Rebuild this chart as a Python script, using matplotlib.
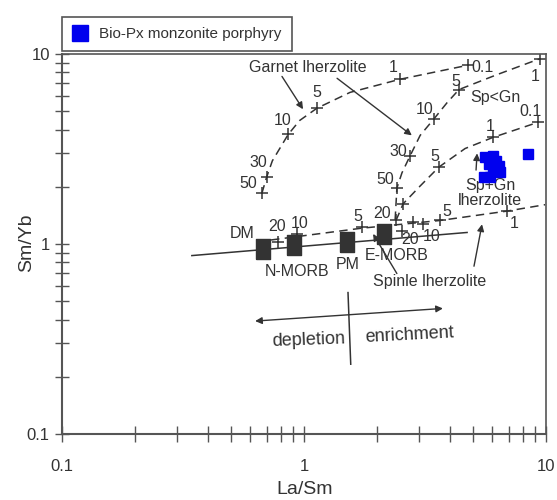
import matplotlib
matplotlib.use("Agg")
import matplotlib.pyplot as plt
from matplotlib.ticker import NullFormatter

plt.rcParams['font.family'] = ['Liberation Sans', 'DejaVu Sans']

ink = '#333333'
axc = '#555555'

# melting curves (La/Sm, Sm/Yb)
garnet_x = [0.67, 0.70, 0.74, 0.86, 0.96, 1.13, 1.55, 2.49, 4.76]
garnet_y = [1.85, 2.24, 2.74, 3.77, 4.47, 5.18, 6.28, 7.36, 8.73]
garnet_mx = [0.67, 0.70, 0.86, 1.13, 2.49, 4.76]
garnet_my = [1.85, 2.24, 3.77, 5.18, 7.36, 8.73]
garnet_lab = ['50', '30', '10', '5', '1', '0.1']
garnet_lx = [0.588, 0.646, 0.819, 1.132, 2.33, 5.44]
garnet_ly = [2.07, 2.68, 4.47, 6.28, 8.53, 8.53]

spgn_x = [2.38, 2.42, 2.54, 2.74, 3.02, 3.45, 3.90, 4.37, 6.28, 9.45]
spgn_y = [1.34, 1.97, 2.37, 2.90, 3.73, 4.57, 5.54, 6.50, 7.79, 9.45]
spgn_mx = [2.42, 2.74, 3.45, 4.37, 9.45]
spgn_my = [1.97, 2.90, 4.57, 6.50, 9.45]
spgn_lab = ['50', '30', '10', '5', '1']
spgn_lx = [2.16, 2.45, 3.16, 4.25, 9.01]
spgn_ly = [2.19, 3.07, 5.12, 7.20, 7.62]

mix_x = [2.40, 2.57, 3.02, 3.61, 4.63, 6.04, 9.27]
mix_y = [1.33, 1.63, 2.02, 2.54, 3.18, 3.64, 4.37]
mix_mx = [2.57, 3.61, 6.04, 9.27]
mix_my = [1.63, 2.54, 3.64, 4.37]
mix_lab = ['5', '1', '0.1']
mix_lx = [3.48, 5.87, 8.59]
mix_ly = [2.90, 4.17, 5.01]

spinel_x = [0.731, 1.72, 3.65, 6.90, 9.91]
spinel_y = [1.05, 1.21, 1.33, 1.49, 1.61]
spinel_mx = [0.782, 0.935, 1.74, 2.40, 2.82, 3.10, 3.65, 6.90]
spinel_my = [1.03, 1.13, 1.23, 1.33, 1.30, 1.28, 1.33, 1.49]
spinel_lab = ['20', '10', '5', '20', '5', '1']
spinel_lx = [0.774, 0.962, 1.67, 2.10, 3.90, 7.38]
spinel_ly = [1.24, 1.28, 1.39, 1.44, 1.49, 1.28]

trend_x = [0.344, 4.72]
trend_y = [0.869, 1.15]
trend_mx = [2.54]
trend_my = [1.17]
trend_lab = ['20', '10']
trend_lx = [2.74, 3.38]
trend_ly = [1.05, 1.09]

# reservoirs
res_names = ['DM', 'N-MORB', 'PM', 'E-MORB']
res_x = [0.678, 0.910, 1.51, 2.14]
res_y = [0.938, 0.987, 1.02, 1.13]
res_lx = [0.555, 0.935, 1.51, 2.42]
res_ly = [1.13, 0.717, 0.784, 0.869]

# samples
bio_x = [5.60, 6.04, 5.81, 6.39, 6.04, 6.46, 5.54, 5.87, 6.21, 8.43]
bio_y = [2.87, 2.90, 2.65, 2.56, 2.42, 2.39, 2.24, 2.26, 2.74, 2.97]

fig = plt.figure(figsize=(5.57, 5.0), dpi=100)
ax = fig.add_axes([62 / 557, 66 / 500, 484 / 557, 380 / 500])
ax.set_xscale('log')
ax.set_yscale('log')
ax.set_xlim(0.1, 10)
ax.set_ylim(0.1, 10)

dash = (0, (5.5, 3.5))
for lx, ly, mx, my in [(garnet_x, garnet_y, garnet_mx, garnet_my),
                       (spgn_x, spgn_y, spgn_mx, spgn_my),
                       (mix_x, mix_y, mix_mx, mix_my),
                       (spinel_x, spinel_y, spinel_mx, spinel_my)]:
    ax.plot(lx, ly, color=ink, lw=1.1, linestyle=dash)
    ax.plot(mx, my, '+', color=ink, ms=8, mew=1.1)

ax.plot(trend_x, trend_y, color=ink, lw=1.1)
ax.plot(trend_mx, trend_my, '+', color=ink, ms=8, mew=1.1)

tall_box = [(-0.75, -1), (0.75, -1), (0.75, 1), (-0.75, 1), (-0.75, -1)]
ax.plot(res_x, res_y, linestyle='none', marker=tall_box, color='#333333', ms=14,
        mec='#333333')
ax.plot(bio_x, bio_y, 's', color='#0000ee', ms=6.5, mec='#0000ee',
        label='Bio-Px monzonite porphyry', zorder=5)

fs = 11.5
for labs, lx, ly in [(garnet_lab, garnet_lx, garnet_ly),
                     (spgn_lab, spgn_lx, spgn_ly),
                     (mix_lab, mix_lx, mix_ly),
                     (spinel_lab, spinel_lx, spinel_ly),
                     (trend_lab, trend_lx, trend_ly),
                     (res_names, res_lx, res_ly)]:
    for t, x, y in zip(labs, lx, ly):
        ax.text(x, y, t, fontsize=fs, color=ink, ha='center', va='center')

ax.text(1.04, 8.53, 'Garnet lherzolite', fontsize=fs, color=ink, ha='center', va='center')
ax.text(6.15, 5.87, 'Sp<Gn', fontsize=fs, color=ink, ha='center', va='center')
ax.text(5.87, 2.04, 'Sp+Gn', fontsize=fs, color=ink, ha='center', va='center')
ax.text(5.87, 1.69, 'lherzolite', fontsize=fs, color=ink, ha='center', va='center')
ax.text(3.32, 0.631, 'Spinle lherzolite', fontsize=fs, color=ink, ha='center', va='center')
ax.text(1.04, 0.312, 'depletion', fontsize=13, color=ink, ha='center', va='center', rotation=2)
ax.text(2.72, 0.333, 'enrichment', fontsize=13, color=ink, ha='center', va='center', rotation=3)

arr = dict(arrowstyle='-|>', color=ink, lw=1.0, mutation_scale=10, shrinkA=0, shrinkB=0)
for (x0, y0), (x1, y1) in [((0.811, 7.62), (0.991, 5.12)),
                           ((1.37, 7.45), (2.79, 3.73)),
                           ((5.14, 2.45), (5.19, 3.00)),
                           ((2.42, 0.699), (1.93, 1.13)),
                           ((5.04, 0.764), (5.44, 1.27))]:
    ax.annotate('', xy=(x1, y1), xytext=(x0, y0), arrowprops=arr)

ax.annotate('', xy=(0.628, 0.393), xytext=(3.75, 0.458),
            arrowprops=dict(arrowstyle='<|-|>', color=ink, lw=1.0, mutation_scale=10,
                            shrinkA=0, shrinkB=0))
ax.plot([1.52, 1.56], [0.555, 0.233], color=ink, lw=1.1)

ax.set_xticks([0.1, 1, 10])
ax.set_xticklabels(['0.1', '1', '10'])
ax.set_yticks([0.1, 1, 10])
ax.set_yticklabels(['0.1', '1', '10'])
ax.xaxis.set_minor_formatter(NullFormatter())
ax.yaxis.set_minor_formatter(NullFormatter())
ax.tick_params(axis='x', which='both', direction='inout', length=12, width=1,
               color=axc, labelsize=12, labelcolor=ink, pad=12)
ax.tick_params(axis='y', which='both', direction='inout', length=9.5, width=1,
               color=axc, labelsize=12, labelcolor=ink, pad=4)

for s in ['left', 'bottom']:
    ax.spines[s].set_color(axc)
    ax.spines[s].set_linewidth(1.5)
for s in ['top', 'right']:
    ax.spines[s].set_color(axc)
    ax.spines[s].set_linewidth(1.2)

ax.set_xlabel('La/Sm', fontsize=14, color=ink)
ax.set_ylabel('Sm/Yb', fontsize=14, color=ink)
ax.xaxis.set_label_coords(0.502, -0.124)
ax.yaxis.set_label_coords(-0.056, 0.503)

leg = ax.legend(loc='lower left', bbox_to_anchor=(0, 1.008), borderaxespad=0,
                fontsize=11, markerscale=1.7, handlelength=1.0, handletextpad=0.8,
                fancybox=False, framealpha=1, edgecolor=axc, borderpad=0.65)
leg.get_frame().set_linewidth(1.2)
for t in leg.get_texts():
    t.set_color(ink)

fig.savefig('out.png', dpi=100)
